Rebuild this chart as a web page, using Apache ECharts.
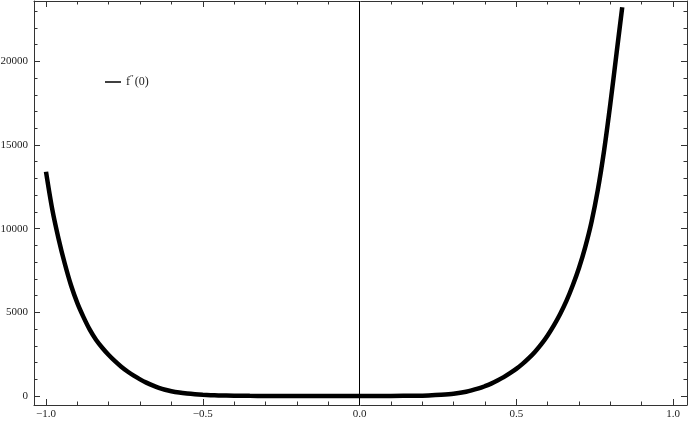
<!DOCTYPE html>
<html>
<head>
<meta charset="utf-8">
<script src="https://cdn.jsdelivr.net/npm/echarts@6/dist/echarts.min.js"></script>
<style>
  html, body { margin: 0; padding: 0; background: #fff; }
  #chart { width: 689px; height: 422px; }
</style>
</head>
<body>
<div id="chart"></div>
<script>
// values
const xValues = [-1.0, -0.98, -0.96, -0.94, -0.92, -0.9, -0.88, -0.86, -0.84, -0.82,
  -0.8, -0.78, -0.76, -0.74, -0.72, -0.7, -0.68, -0.66, -0.64, -0.62,
  -0.6, -0.575, -0.55, -0.525, -0.5, -0.475, -0.45, -0.4, -0.35, -0.3,
  -0.2, -0.1, 0, 0.1, 0.18, 0.22, 0.26, 0.3, 0.34, 0.38,
  0.4, 0.42, 0.44, 0.46, 0.48, 0.5, 0.52, 0.54, 0.56, 0.58,
  0.6, 0.62, 0.64, 0.66, 0.68, 0.7, 0.72, 0.74, 0.76, 0.78,
  0.8, 0.82, 0.838]
const yValues = [13400, 11150, 9400, 7900, 6600, 5550, 4700, 3950, 3350, 2870,
  2450, 2080, 1750, 1465, 1215, 995, 800, 630, 490, 375,
  285, 205, 148, 105, 73, 50, 35, 17, 8, 4,
  2, 1, 1, 5, 18, 35, 70, 130, 250, 450,
  585, 740, 925, 1130, 1365, 1620, 1920, 2260, 2650, 3100,
  3620, 4220, 4900, 5680, 6600, 7650, 8900, 10400, 12300, 14650,
  17450, 20500, 23230]
const seriesName = 'f\'\'(0)'

const xRange = [-1.0383, 1.0446]
const yRange = [-538, 23602]

const serif = 'Liberation Serif, DejaVu Serif, serif'
const frameColor = '#333'

function fmtX (v) {
  return (v < 0 ? '\u2212' : '') + Math.abs(v).toFixed(1)
}

function frameAxis (kind, position, major, splitNumber) {
  const range = kind === 'x' ? xRange : yRange
  return {
    type: 'value',
    position: position,
    min: range[0],
    max: range[1],
    splitNumber: splitNumber,
    splitLine: { show: false },
    axisLine: { show: major, onZero: false, lineStyle: { color: frameColor, width: 1 } },
    axisTick: { show: true, inside: true, length: major ? 6 : 3.5, lineStyle: { color: frameColor, width: 1 } },
    axisLabel: { show: false }
  }
}

const chart = echarts.init(document.getElementById('chart'), null, { renderer: 'canvas' })

const xMain = frameAxis('x', 'bottom', true, 4)
xMain.axisLabel = {
  show: true,
  margin: 4,
  color: '#222',
  fontFamily: serif,
  fontSize: 11,
  showMinLabel: false,
  showMaxLabel: false,
  formatter: fmtX
}

const yMain = frameAxis('y', 'left', true, 5)
yMain.axisLabel = {
  show: true,
  margin: 6,
  color: '#222',
  fontFamily: serif,
  fontSize: 11,
  showMinLabel: false,
  showMaxLabel: false,
  formatter: v => String(Math.round(v))
}

chart.setOption({
  animation: false,
  backgroundColor: '#fff',
  grid: { left: 34, right: 2, top: 1, bottom: 17, containLabel: false, outerBoundsMode: 'none' },
  legend: {
    left: 100,
    top: 69,
    icon: 'rect',
    itemWidth: 16,
    itemHeight: 1.5,
    itemGap: 4,
    data: [seriesName],
    formatter: function () { return 'f{s|\u2033}(0)' },
    textStyle: {
      fontFamily: serif,
      fontSize: 12,
      color: '#222',
      rich: {
        s: { fontFamily: serif, fontSize: 9, color: '#222', padding: [0, 1, 7, 0] }
      }
    }
  },
  xAxis: [
    xMain,
    frameAxis('x', 'bottom', false, 20),
    frameAxis('x', 'top', true, 4),
    frameAxis('x', 'top', false, 20)
  ],
  yAxis: [
    yMain,
    frameAxis('y', 'left', false, 24),
    frameAxis('y', 'right', true, 5),
    frameAxis('y', 'right', false, 24)
  ],
  series: [
    {
      name: seriesName,
      type: 'line',
      xAxisIndex: 0,
      yAxisIndex: 0,
      data: xValues.map((x, i) => [x, yValues[i]]),
      symbol: 'none',
      smooth: 0.3,
      lineStyle: { color: '#000', width: 4.5 },
      itemStyle: { color: '#000' },
      markLine: {
        silent: true,
        symbol: 'none',
        label: { show: false },
        lineStyle: { color: '#000', width: 1, type: 'solid' },
        data: [{ xAxis: 0 }]
      }
    }
  ]
})
</script>
</body>
</html>
